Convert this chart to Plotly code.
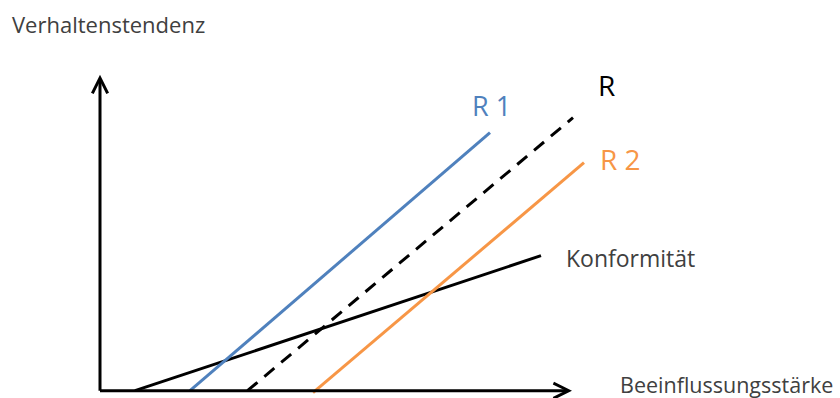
import plotly.graph_objects as go

# Conceptual chart (arbitrary units): x = Beeinflussungsstärke, y = Verhaltenstendenz
konformitaet_x = [3.5, 44.1]
konformitaet_y = [0.0, 13.5]
r1_x = [9.0, 39.0]
r1_y = [0.0, 25.8]
r_x = [14.75, 47.3]
r_y = [0.0, 27.3]
r2_x = [21.3, 48.4]
r2_y = [-0.2, 22.8]

axis_x_end = 47.2
axis_y_end = 31.6

label_r1 = "R 1"
label_r = "R"
label_r2 = "R 2"
label_konf = "Konformität"
title_x = "Beeinflussungsstärke"
title_y = "Verhaltenstendenz"

BLUE = "#4F81BD"
ORANGE = "#F79646"
BLACK = "#000000"
TEXT = "#404040"
FONT = "Open Sans"

fig = go.Figure()
fig.add_trace(go.Scatter(x=konformitaet_x, y=konformitaet_y, mode="lines",
                         line=dict(color=BLACK, width=3), hoverinfo="skip"))
fig.add_trace(go.Scatter(x=r1_x, y=r1_y, mode="lines",
                         line=dict(color=BLUE, width=3), hoverinfo="skip"))
fig.add_trace(go.Scatter(x=r_x, y=r_y, mode="lines",
                         line=dict(color=BLACK, width=3, dash="13px,9px"), hoverinfo="skip"))
fig.add_trace(go.Scatter(x=r2_x, y=r2_y, mode="lines",
                         line=dict(color=ORANGE, width=3), hoverinfo="skip"))

annotations = [
    # axes with arrowheads
    dict(x=axis_x_end, y=0, ax=-0.15, ay=0, xref="x", yref="y", axref="x", ayref="y",
         showarrow=True, arrowhead=5, arrowsize=1.0, arrowwidth=3, arrowcolor=BLACK,
         standoff=0, startstandoff=0, text=""),
    dict(x=0, y=axis_y_end, ax=0, ay=-0.15, xref="x", yref="y", axref="x", ayref="y",
         showarrow=True, arrowhead=5, arrowsize=1.0, arrowwidth=3, arrowcolor=BLACK,
         standoff=0, startstandoff=0, text=""),
    # series labels
    dict(x=r1_x[-1], y=r1_y[-1], text=label_r1, showarrow=False, xanchor="center",
         yanchor="middle", xshift=1, yshift=27, font=dict(family=FONT, size=27, color=BLUE)),
    dict(x=r_x[-1], y=r_y[-1], text=label_r, showarrow=False, xanchor="center",
         yanchor="middle", xshift=33, yshift=33, font=dict(family=FONT, size=28, color=BLACK)),
    dict(x=r2_x[-1], y=r2_y[-1], text=label_r2, showarrow=False, xanchor="center",
         yanchor="middle", xshift=36, yshift=4, font=dict(family=FONT, size=28, color=ORANGE)),
    dict(x=konformitaet_x[-1], y=konformitaet_y[-1], text=label_konf, showarrow=False,
         xanchor="left", yanchor="middle", xshift=23, yshift=-2,
         font=dict(family=FONT, size=23, color=TEXT)),
    # axis titles
    dict(x=axis_x_end, y=0, text=title_x, showarrow=False, xanchor="left", yanchor="middle",
         xshift=46, yshift=6, font=dict(family=FONT, size=21.5, color=TEXT)),
    dict(x=0, y=axis_y_end, text=title_y, showarrow=False, xanchor="left", yanchor="middle",
         xshift=-90, yshift=51, font=dict(family=FONT, size=22, color=TEXT)),
]

fig.update_layout(
    width=840, height=398,
    margin=dict(l=0, r=0, t=0, b=0),
    paper_bgcolor="white", plot_bgcolor="white",
    showlegend=False,
    xaxis=dict(range=[-10, 74], visible=False, fixedrange=True),
    yaxis=dict(range=[-0.73, 39.07], visible=False, fixedrange=True),
    annotations=annotations,
)

fig.write_html("out.html",
               config={"displayModeBar": False, "staticPlot": True},
               post_script="document.body.style.margin='0px';document.body.style.overflow='hidden';")
